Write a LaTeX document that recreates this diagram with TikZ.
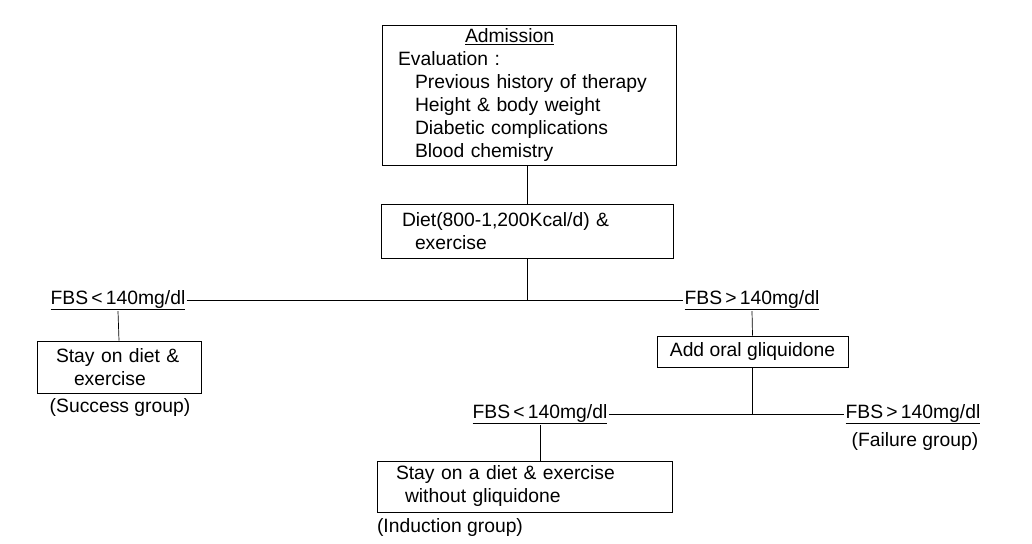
\documentclass[tikz,border=0pt]{standalone}
\usepackage{fontspec}
\setmainfont{Liberation Sans}
\usetikzlibrary{positioning}

\begin{document}
\begin{tikzpicture}[
    x=1pt, y=-1pt,
    every node/.style={font=\fontsize{19.3}{23}\selectfont},
    stage/.style={rectangle, draw, line width=0.7pt, align=left, minimum height=#1},
    fbs/.style={anchor=base, inner sep=1pt},
    grp/.style={inner sep=1pt},
    link/.style={line width=0.7pt}
]
    \useasboundingbox (0,0) rectangle (1032,543);
    \node[stage=135pt, text width=262pt, inner xsep=16pt] (adm) at (529,95.5)
        {\hspace*{67pt}\underline{Admission}\\Evaluation :\\
         \hspace*{17pt}Previous history of therapy\\\hspace*{17pt}Height \& body weight\\
         \hspace*{17pt}Diabetic complications\\\hspace*{17pt}Blood chemistry};
    \node[stage=54pt, text width=250pt, inner xsep=21pt] (diet) at (527,231)
        {Diet(800-1,200Kcal/d) \&\\\hspace*{13pt}exercise};
    \node[fbs] (lo1) at (118,304) {\underline{FBS\,<\,140mg/dl}};
    \node[fbs] (hi1) at (752,304) {\underline{FBS\,>\,140mg/dl}};
    \node[stage=52pt, text width=126pt, inner xsep=19pt] (stay) at (119,367)
        {Stay on diet \&\\\hspace*{18pt}exercise};
    \node[grp] (succ) at (120,408) {(Success group)};
    \node[stage=31pt, minimum width=191pt] (addgli) at (752.5,351.5) {Add oral gliquidone};
    \node[fbs] (lo2) at (540,418) {\underline{FBS\,<\,140mg/dl}};
    \node[fbs] (hi2) at (913,418) {\underline{FBS\,>\,140mg/dl}};
    \node[grp] (fail) at (915,442) {(Failure group)};
    \node[stage=51pt, text width=257pt, inner xsep=19pt] (induct) at (524.5,486.5)
        {Stay on a diet \& exercise\\\hspace*{9pt}without gliquidone};
    \node[grp] (indg) at (450,528) {(Induction group)};
    \draw[link] (diet.north) -- (diet.north |- adm.south);
    \draw[link] (diet.south) -- (diet.south |- lo1.east);
    \draw[link] (lo1.east) -- (hi1.west);
    \draw[link] (lo1.south) -- (stay.north);
    \draw[link] (hi1.south) -- (addgli.north);
    \draw[link] (addgli.south) -- (addgli.south |- lo2.east);
    \draw[link] (lo2.east) -- (hi2.west);
    \draw[link] (lo2.south) -- (lo2.south |- induct.north);
\end{tikzpicture}
\end{document}
